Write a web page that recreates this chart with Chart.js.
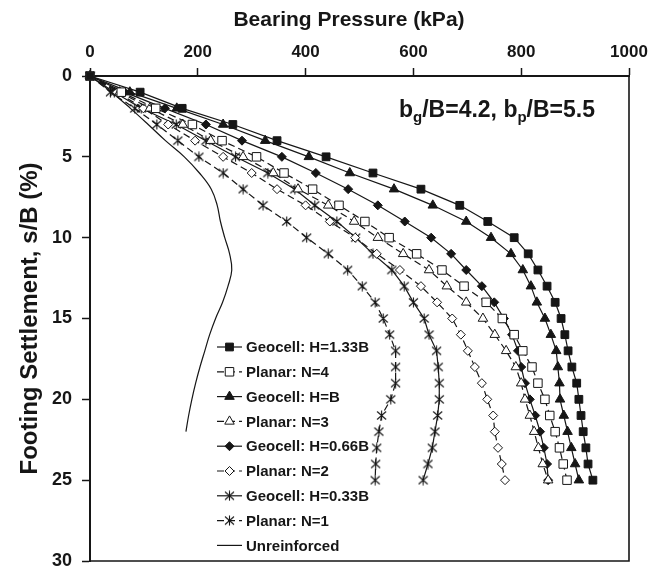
<!DOCTYPE html>
<html>
<head>
<meta charset="utf-8">
<script src="https://cdn.jsdelivr.net/npm/chart.js@4.4.1/dist/chart.umd.min.js"></script>
<style>
  html, body { margin: 0; padding: 0; background: #fff; }
</style>
</head>
<body>
<canvas id="chart" width="649" height="570"></canvas>
<script>
// Settlement steps s/B (%) where readings were taken
var settlement = [0, 1, 2, 3, 4, 5, 6, 7, 8, 9, 10, 11, 12, 13, 14, 15, 16, 17, 18, 19, 20, 21, 22, 23, 24, 25];
var settlementUnreinf = [0, 1, 2, 3, 4, 5, 6, 7, 8, 9, 10, 11, 12, 13, 14, 15, 16, 17, 18, 19, 20, 21, 22];

// Bearing pressure (kPa) at each settlement step
var geocell133 = [0, 93, 171, 265, 347, 438, 525, 614, 686, 738, 787, 813, 831, 848, 863, 874, 881, 887, 894, 903, 907, 911, 915, 920, 924, 933];
var planar4    = [0, 58, 122, 190, 245, 309, 360, 413, 462, 510, 555, 606, 653, 694, 735, 765, 787, 803, 820, 831, 844, 853, 863, 871, 878, 885];
var geocell100 = [0, 74, 161, 247, 325, 406, 482, 564, 636, 698, 744, 781, 803, 818, 829, 844, 855, 865, 868, 871, 872, 879, 886, 893, 900, 907];
var planar3    = [0, 55, 111, 172, 224, 284, 340, 386, 442, 490, 534, 581, 629, 662, 698, 729, 751, 772, 790, 800, 807, 816, 824, 832, 840, 850];
var geocell066 = [0, 64, 139, 215, 282, 356, 419, 479, 534, 584, 633, 670, 698, 727, 750, 768, 783, 794, 800, 807, 816, 826, 835, 842, 848, 850];
var planar2    = [0, 50, 99, 145, 195, 247, 300, 347, 400, 445, 492, 532, 575, 614, 644, 672, 688, 701, 714, 727, 737, 748, 751, 757, 764, 770];
var geocell033 = [0, 45, 95, 160, 215, 270, 330, 380, 417, 458, 493, 525, 560, 583, 600, 620, 629, 643, 646, 648, 648, 645, 640, 635, 627, 618];
var planar1    = [0, 38, 83, 124, 163, 202, 247, 284, 321, 365, 402, 442, 478, 505, 529, 544, 556, 567, 567, 567, 558, 541, 536, 532, 530, 529];
var unreinforced = [0, 40, 75, 108, 140, 175, 203, 225, 236, 242, 250, 259, 263, 256, 246, 233, 222, 213, 204, 196, 189, 183, 178];

var xTicks = [0, 200, 400, 600, 800, 1000];
var yTicks = [0, 5, 10, 15, 20, 25, 30];

var FONT = "'Liberation Sans', Arial, Helvetica, sans-serif";
var INK = '#161616';

// Excel-style asterisk marker (X with a vertical bar)
function makeAsterisk() {
    var c = document.createElement('canvas');
    c.width = 11; c.height = 11;
    var g = c.getContext('2d');
    g.strokeStyle = INK;
    g.lineWidth = 1.1;
    g.beginPath();
    g.moveTo(5.5, 0.5); g.lineTo(5.5, 10.5);
    g.moveTo(1, 1.5); g.lineTo(10, 9.5);
    g.moveTo(10, 1.5); g.lineTo(1, 9.5);
    g.stroke();
    return c;
}
var asterisk = makeAsterisk();

function pts(values, steps) {
    return values.map(function(v, i) { return { x: v, y: steps[i] }; });
}

function series(label, values, style, radius, filled, dashed) {
    return {
        label: label,
        data: pts(values, settlement),
        borderColor: INK,
        borderWidth: 1.2,
        borderDash: dashed ? [7, 4] : [],
        pointStyle: style,
        pointRadius: radius,
        pointHoverRadius: radius,
        pointBackgroundColor: filled ? INK : '#ffffff',
        pointBorderColor: INK,
        pointBorderWidth: 1,
        tension: 0,
        fill: false,
        clip: false
    };
}

var datasets = [
    series('Geocell: H=1.33B', geocell133, 'rect', 5.5, true, false),
    series('Planar: N=4', planar4, 'rect', 6, false, true),
    series('Geocell: H=B', geocell100, 'triangle', 5.5, true, false),
    series('Planar: N=3', planar3, 'triangle', 5.5, false, true),
    series('Geocell: H=0.66B', geocell066, 'rectRot', 4.5, true, false),
    series('Planar: N=2', planar2, 'rectRot', 4.5, false, true),
    series('Geocell: H=0.33B', geocell033, asterisk, 5, true, false),
    series('Planar: N=1', planar1, asterisk, 5, true, true),
    {
        label: 'Unreinforced',
        data: pts(unreinforced, settlementUnreinf),
        borderColor: INK,
        borderWidth: 1.2,
        pointRadius: 0,
        tension: 0.4,
        fill: false,
        clip: false
    }
];

// Frame on the right and bottom sides
var frame = {
    id: 'frame',
    beforeDatasetsDraw: function(chart) {
        var a = chart.chartArea, ctx = chart.ctx;
        ctx.save();
        ctx.strokeStyle = INK;
        ctx.lineWidth = 1.6;
        ctx.beginPath();
        ctx.moveTo(a.right, a.top);
        ctx.lineTo(a.right, a.bottom);
        ctx.lineTo(a.left, a.bottom);
        ctx.stroke();
        ctx.restore();
    }
};

// Legend drawn inside the plot, lower left
var innerLegend = {
    id: 'innerLegend',
    afterDraw: function(chart) {
        var ctx = chart.ctx;
        var lx = 217, ly = 347, gap = 24.8;
        ctx.save();
        ctx.font = 'bold 15px ' + FONT;
        ctx.textBaseline = 'middle';
        chart.data.datasets.forEach(function(ds, i) {
            var y = ly + i * gap;
            ctx.strokeStyle = ds.borderColor;
            ctx.lineWidth = ds.borderWidth;
            ctx.setLineDash(ds.borderDash || []);
            ctx.beginPath();
            ctx.moveTo(lx, y);
            ctx.lineTo(lx + 25, y);
            ctx.stroke();
            ctx.setLineDash([]);
            if (ds.pointRadius > 0) {
                ctx.fillStyle = ds.pointBackgroundColor;
                ctx.strokeStyle = ds.pointBorderColor;
                ctx.lineWidth = ds.pointBorderWidth;
                Chart.helpers.drawPoint(ctx, {
                    pointStyle: ds.pointStyle,
                    radius: ds.pointRadius,
                    rotation: 0,
                    borderWidth: ds.pointBorderWidth
                }, lx + 12.5, y);
            }
            ctx.fillStyle = INK;
            ctx.fillText(ds.label, lx + 29, y + 1);
        });
        ctx.restore();
    }
};

// Axis title on top and the "bg/B=4.2, bp/B=5.5" note with subscripts
var texts = {
    id: 'texts',
    afterDraw: function(chart) {
        var ctx = chart.ctx;
        ctx.save();
        ctx.fillStyle = INK;
        ctx.font = 'bold 21px ' + FONT;
        ctx.textAlign = 'center';
        ctx.textBaseline = 'middle';
        ctx.fillText('Bearing Pressure (kPa)', 349, 20);

        var parts = [['b', 0], ['g', 1], ['/B=4.2, b', 0], ['p', 1], ['/B=5.5', 0]];
        var x = 399, y = 117;
        ctx.textAlign = 'left';
        ctx.textBaseline = 'alphabetic';
        parts.forEach(function(p) {
            ctx.font = 'bold ' + (p[1] ? 15 : 23) + 'px ' + FONT;
            ctx.fillText(p[0], x, y + (p[1] ? 5 : 0));
            x += ctx.measureText(p[0]).width;
        });
        ctx.restore();
    }
};

new Chart(document.getElementById('chart'), {
    type: 'line',
    data: { datasets: datasets },
    options: {
        responsive: false,
        animation: false,
        events: [],
        layout: { padding: { left: 0, top: 0, right: 20, bottom: 9 } },
        plugins: {
            legend: { display: false },
            tooltip: { enabled: false }
        },
        scales: {
            x: {
                type: 'linear',
                position: 'top',
                min: 0,
                max: 1000,
                afterFit: function(scale) {
                    scale.height = 76;
                    scale.paddingLeft = 0;
                    scale.paddingRight = 0;
                },
                afterBuildTicks: function(scale) {
                    scale.ticks = xTicks.map(function(v) { return { value: v }; });
                },
                ticks: {
                    color: INK,
                    padding: 5,
                    font: { family: FONT, size: 17, weight: 'bold' },
                    callback: function(v) { return String(v); }
                },
                grid: {
                    drawOnChartArea: false,
                    drawTicks: true,
                    tickLength: 8,
                    tickWidth: 1.5,
                    color: INK
                },
                border: { display: true, color: INK, width: 2 }
            },
            y: {
                type: 'linear',
                position: 'left',
                reverse: true,
                min: 0,
                max: 30,
                afterFit: function(scale) {
                    scale.width = 90;
                    scale.paddingTop = 0;
                    scale.paddingBottom = 0;
                },
                afterBuildTicks: function(scale) {
                    scale.ticks = yTicks.map(function(v) { return { value: v }; });
                },
                ticks: {
                    color: INK,
                    padding: 10,
                    font: { family: FONT, size: 18, weight: 'bold' },
                    callback: function(v) { return String(v); }
                },
                grid: {
                    drawOnChartArea: false,
                    drawTicks: true,
                    tickLength: 8,
                    tickWidth: 1.5,
                    color: INK
                },
                border: { display: true, color: INK, width: 2 },
                title: {
                    display: true,
                    text: 'Footing Settlement, s/B (%)',
                    color: INK,
                    padding: { top: 16, bottom: 0 },
                    font: { family: FONT, size: 24, weight: 'bold' }
                }
            }
        }
    },
    plugins: [frame, innerLegend, texts]
});
</script>
</body>
</html>
